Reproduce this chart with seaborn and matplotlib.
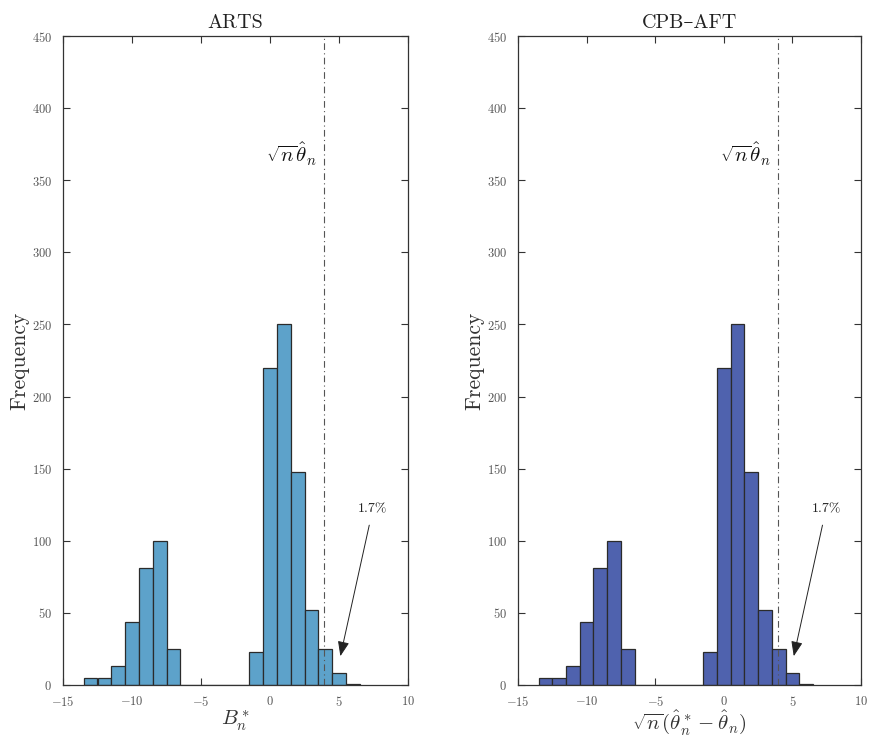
import numpy as np
import pandas as pd
import matplotlib
matplotlib.use("Agg")
import matplotlib.pyplot as plt
import seaborn as sns

# ---- data ----
bin_centers = [-13, -12, -11, -10, -9, -8, -7, -1, 0, 1, 2, 3, 4, 5, 6]
counts_arts = [5, 5, 13, 44, 81, 100, 25, 23, 220, 250, 148, 52, 25, 8, 1]
counts_cpb = [5, 5, 13, 44, 81, 100, 25, 23, 220, 250, 148, 52, 25, 8, 1]
theta_line = 3.93
pct_label = "1.7%"
titles = ["ARTS", "CPB\u2013AFT"]
xlabels = [r"$B_n^*$", r"$\sqrt{n}(\hat{\theta}_n^* - \hat{\theta}_n)$"]
colors = ["#5DA2CA", "#4F62AE"]
xticks = [-15, -10, -5, 0, 5, 10]
yticks = list(range(0, 451, 50))

sns.set_theme(style="ticks")
plt.rcParams["font.family"] = ["cmr10", "DejaVu Serif"]
plt.rcParams["mathtext.fontset"] = "cm"
plt.rcParams["axes.formatter.use_mathtext"] = True
plt.rcParams["axes.unicode_minus"] = True

fig = plt.figure(figsize=(8.69, 7.4), dpi=100)
axes = [fig.add_axes([63/869, 55/740, 345/869, 649/740]),
        fig.add_axes([518/869, 55/740, 343/869, 649/740])]

for ax, counts, color, title, xl in zip(axes, [counts_arts, counts_cpb], colors, titles, xlabels):
    df = pd.DataFrame({"x": bin_centers, "w": counts})
    sns.histplot(data=df, x="x", weights="w", binwidth=1, binrange=(-13.5, 6.5),
                 color=color, alpha=1.0, edgecolor="#2b2b2b", linewidth=0.9, ax=ax)
    ax.set_xlim(-15, 10)
    ax.set_ylim(0, 450)
    ax.set_xticks(xticks)
    ax.set_yticks(yticks)
    ax.tick_params(direction="in", top=True, right=True, length=5, width=0.8,
                   colors="#333333", labelcolor="#555555", labelsize=9)
    ax.tick_params(axis="x", pad=7)
    ax.tick_params(axis="y", pad=8)
    for s in ax.spines.values():
        s.set_color("#333333")
        s.set_linewidth(0.9)
    ax.axvline(theta_line, color="#555555", linestyle="-.", linewidth=0.8, dashes=(6, 3, 1, 3))
    ax.set_title(title, fontsize=14.5, color="#222222", pad=6)
    ax.set_xlabel(xl, fontsize=15, color="#333333", labelpad=0)
    ax.set_ylabel("Frequency", fontsize=15.5, color="#333333", labelpad=2)
    ax.text(1.55, 368, r"$\sqrt{n}\hat{\theta}_n$", fontsize=15, ha="center", va="center",
            color="#111111")
    ax.annotate(pct_label, xy=(5.1, 20), xytext=(7.45, 122), fontsize=10,
                ha="center", va="center", color="#222222",
                arrowprops=dict(arrowstyle="-|>,head_length=0.9,head_width=0.35",
                                color="#222222", lw=0.7, shrinkA=5, shrinkB=0))

fig.savefig("out.png", dpi=100)
